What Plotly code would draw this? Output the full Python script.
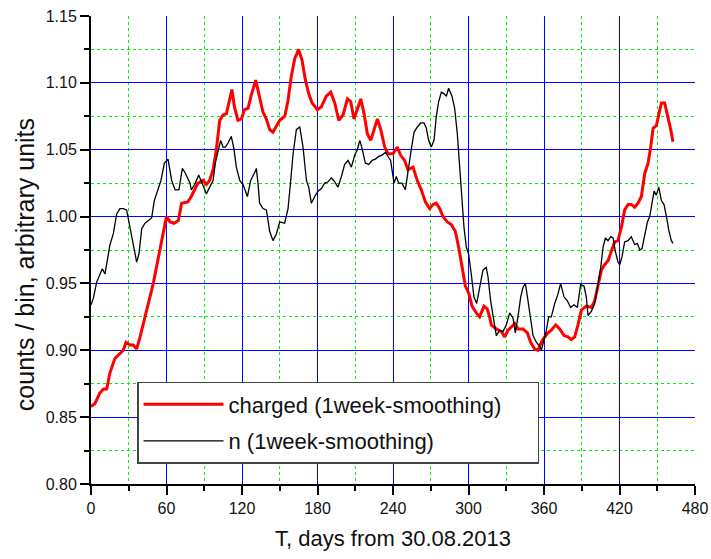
import plotly.graph_objects as go

# ---- data ----
charged_days = [0, 3, 7, 10, 12.5, 15, 19, 23, 25.7, 27.8, 31, 33.6, 36.3, 39, 41.6, 44.2, 47, 49.5, 52, 55,
                57.5, 60, 62.8, 66, 69.4, 72, 77, 79.7, 85, 89, 91.7, 94.3, 97, 99.6, 102.3, 105, 107.6, 110.2,
                112, 114, 116.8, 119.5, 122, 124.8, 127.4, 130.9, 134, 136.7, 139.4, 142, 144.6, 147.3, 150,
                154, 156.6, 159.2, 161.9, 165, 167.7, 170.4, 173, 175.7, 179.9, 183, 187, 190.5, 193.7, 196.9,
                200.3, 203.8, 206.4, 209, 212.2, 214.4, 217, 219.6, 222.3, 225, 227.6, 230.3, 233.4, 236, 240,
                243.4, 246, 249.2, 251.9, 255.9, 259.3, 262.5, 265.7, 269.1, 271.8, 274.4, 277.1, 279.7, 283.2,
                286.3, 289.5, 292.2, 294.8, 297.5, 300.1, 302.8, 306.2, 308.8, 312.3, 314.9, 317, 318.1, 322.1,
                326.1, 328.7, 331.4, 334.6, 336.7, 339.3, 343.3, 346.8, 349.4, 352.6, 355.2, 357.9, 360.5,
                363.2, 365.8, 369.3, 372.5, 375.9, 379.1, 381.7, 384.4, 387, 389.7, 393.6, 397.6, 400.3, 403,
                405.6, 408.2, 410.9, 413.5, 416.2, 418.8, 421.5, 424.1, 426.8, 429.4, 432.1, 434.7, 437.4, 440,
                442.7, 444.8, 446.7, 449.3, 451.2, 453.3, 455.9, 458.6, 460.7, 462.5]
charged_vals = [0.858, 0.860, 0.868, 0.871, 0.871, 0.883, 0.894, 0.898, 0.900, 0.906, 0.904, 0.904, 0.901, 0.910,
                0.920, 0.928, 0.939, 0.950, 0.962, 0.976, 0.990, 1.000, 0.996, 0.995, 0.997, 1.010, 1.011, 1.015,
                1.025, 1.027, 1.024, 1.027, 1.035, 1.050, 1.072, 1.076, 1.077, 1.088, 1.095, 1.082, 1.072, 1.073,
                1.080, 1.081, 1.091, 1.102, 1.088, 1.078, 1.073, 1.065, 1.063, 1.067, 1.072, 1.075, 1.087, 1.105,
                1.118, 1.125, 1.117, 1.102, 1.092, 1.085, 1.080, 1.082, 1.090, 1.093, 1.085, 1.072, 1.076, 1.088,
                1.086, 1.073, 1.081, 1.088, 1.077, 1.062, 1.057, 1.066, 1.073, 1.065, 1.052, 1.047, 1.047, 1.052,
                1.046, 1.042, 1.035, 1.037, 1.027, 1.020, 1.011, 1.006, 1.009, 1.010, 1.006, 1.000, 0.996, 0.994,
                0.989, 0.977, 0.962, 0.948, 0.943, 0.933, 0.928, 0.925, 0.933, 0.931, 0.924, 0.919, 0.916, 0.914,
                0.910, 0.915, 0.918, 0.920, 0.916, 0.916, 0.913, 0.906, 0.901, 0.900, 0.906, 0.910, 0.913, 0.915,
                0.919, 0.916, 0.911, 0.910, 0.908, 0.910, 0.919, 0.930, 0.933, 0.932, 0.937, 0.950, 0.960, 0.964,
                0.967, 0.974, 0.981, 0.982, 0.992, 1.005, 1.009, 1.009, 1.007, 1.010, 1.015, 1.032, 1.040, 1.052,
                1.066, 1.068, 1.077, 1.085, 1.085, 1.075, 1.065, 1.056]

n_days = [0, 1.9, 4.5, 7.2, 9, 11.1, 13.2, 15.1, 17.7, 20.4, 23, 25.7, 28.3, 31, 32.8, 35, 36.3, 38.1, 40.3, 42.9,
          45.6, 48.2, 50.3, 53, 55.6, 58.3, 61.2, 64.1, 66.8, 69.9, 72.6, 74.7, 78.7, 79.7, 82.4, 85.6, 88.2, 91.7,
          94.3, 97, 98.8, 100.9, 103, 104.9, 106.8, 108.9, 111.5, 113.7, 115.5, 118.2, 120.8, 124.3, 126.9, 130.1,
          131.4, 132.7, 134, 136.7, 139.4, 142, 144.6, 147.3, 150, 153.9, 156.6, 158.7, 160.6, 163.2, 165.9,
          168.5, 171.2, 173, 175.1, 177.8, 180.4, 183.1, 185.7, 188.4, 191, 193.7, 196.3, 199, 201.6, 204.3,
          206.9, 209.6, 211.7, 213.6, 215.4, 218, 220.7, 223.4, 226, 228.7, 231.3, 234, 236.1, 238.1, 240.8,
          242.6, 244.5, 247.1, 249.8, 251.9, 254, 256.7, 259.3, 262, 264.6, 266.5, 268.3, 270.4, 272.6, 274.4,
          276.3, 278.4, 280.5, 282.4, 284.2, 286.9, 289, 291.1, 293, 294.8, 296.4, 298.3, 300.1, 302.2, 304.3,
          306.5, 308.8, 311.5, 314.1, 315.5, 317.6, 320.3, 322.1, 324.8, 327.4, 330.1, 332.7, 335.4, 337.2,
          339.3, 341.5, 343.3, 345.2, 347.3, 349.4, 351.3, 353.9, 356.6, 357.9, 360, 361.9, 363.7, 365.8, 368.5,
          371.1, 373.2, 375.9, 378.5, 381.2, 383.8, 386.5, 389.1, 391.8, 393.6, 395, 397.6, 400.3, 403, 405.1,
          406.9, 408.8, 410.9, 413, 414.9, 416.7, 418.8, 420.2, 422, 424.1, 426.8, 429.4, 432.1, 434.2, 436.1,
          437.9, 440, 442.2, 444, 445.9, 447.5, 449.3, 451.2, 453.3, 455.4, 457.3, 459.1, 461.2, 462.5]
n_vals = [0.934, 0.939, 0.951, 0.957, 0.961, 0.957, 0.970, 0.979, 0.987, 1.002, 1.006, 1.006, 1.005, 0.992, 0.985,
          0.972, 0.966, 0.972, 0.991, 0.995, 0.997, 0.999, 1.012, 1.019, 1.027, 1.040, 1.043, 1.027, 1.020, 1.020,
          1.036, 1.033, 1.025, 1.020, 1.024, 1.031, 1.025, 1.017, 1.022, 1.027, 1.040, 1.048, 1.057, 1.052, 1.052,
          1.055, 1.060, 1.050, 1.037, 1.027, 1.024, 1.015, 1.027, 1.033, 1.036, 1.025, 1.010, 1.006, 1.005, 0.989,
          0.982, 0.987, 0.996, 0.995, 1.006, 1.027, 1.047, 1.065, 1.067, 1.052, 1.027, 1.022, 1.010, 1.015, 1.019,
          1.021, 1.025, 1.026, 1.029, 1.026, 1.022, 1.030, 1.039, 1.042, 1.037, 1.046, 1.050, 1.057, 1.051, 1.040,
          1.039, 1.042, 1.043, 1.045, 1.046, 1.048, 1.045, 1.042, 1.025, 1.030, 1.025, 1.025, 1.020, 1.032, 1.047,
          1.063, 1.067, 1.070, 1.070, 1.066, 1.057, 1.052, 1.057, 1.075, 1.086, 1.093, 1.092, 1.090, 1.096, 1.090,
          1.081, 1.062, 1.037, 1.012, 0.992, 0.977, 0.972, 0.957, 0.940, 0.935, 0.947, 0.960, 0.962, 0.955, 0.937,
          0.922, 0.911, 0.915, 0.914, 0.919, 0.928, 0.924, 0.913, 0.925, 0.940, 0.947, 0.950, 0.937, 0.922, 0.911,
          0.906, 0.903, 0.900, 0.908, 0.915, 0.925, 0.925, 0.935, 0.942, 0.950, 0.940, 0.937, 0.932, 0.934, 0.932,
          0.949, 0.948, 0.940, 0.926, 0.929, 0.935, 0.950, 0.962, 0.977, 0.984, 0.982, 0.985, 0.984, 0.974, 0.966,
          0.964, 0.970, 0.981, 0.982, 0.985, 0.979, 0.980, 0.975, 0.976, 0.986, 0.996, 1.000, 1.010, 1.019, 1.016,
          1.022, 1.012, 1.009, 1.000, 0.990, 0.982, 0.980]

x_ticks = [0, 60, 120, 180, 240, 300, 360, 420, 480]
y_ticks = [0.80, 0.85, 0.90, 0.95, 1.00, 1.05, 1.10, 1.15]
y_tick_labels = ["0.80", "0.85", "0.90", "0.95", "1.00", "1.05", "1.10", "1.15"]
series_names = ["charged (1week-smoothing)", "n (1week-smoothing)"]
x_title = "T, days from 30.08.2013"
y_title = "counts / bin, arbitrary units"

FONT = "Liberation Sans, Arial, sans-serif"
PAD = "\u00a0" * 5  # widens the legend box like the reference

fig = go.Figure()
fig.add_trace(go.Scatter(x=charged_days, y=charged_vals, mode="lines",
                         name=series_names[0] + PAD, legendgroup="a",
                         line=dict(color="#ff0000", width=3)))
fig.add_trace(go.Scatter(x=n_days, y=n_vals, mode="lines",
                         name=series_names[1], legendgroup="b",
                         line=dict(color="#000000", width=1.3)))

axis_common = dict(
    showline=True, linecolor="black", linewidth=2,
    ticks="outside", ticklen=9, tickwidth=1.5, tickcolor="black",
    showgrid=True, gridcolor="#0000ff", gridwidth=1,
    zeroline=False, ticklabeloverflow="allow",
    tickfont=dict(family=FONT, size=16, color="#111"),
)

fig.update_xaxes(range=[0, 480], tickvals=x_ticks, **axis_common,
                 minor=dict(dtick=30, tick0=0, ticks="outside", ticklen=5, tickwidth=1.5,
                            tickcolor="black", showgrid=True, gridcolor="#00ee00",
                            griddash="dot", gridwidth=1),
                 title=dict(text=x_title,
                            font=dict(family=FONT, size=22, color="#111"), standoff=14))
fig.update_yaxes(range=[0.80, 1.15], tickvals=y_ticks, ticktext=y_tick_labels, **axis_common,
                 minor=dict(dtick=0.025, tick0=0.8, ticks="outside", ticklen=5, tickwidth=1.5,
                            tickcolor="black", showgrid=True, gridcolor="#00ee00",
                            griddash="dot", gridwidth=1))

# y-axis title placed as in the reference (slightly below the plot centre)
fig.add_annotation(text=y_title, textangle=-90, xref="paper", yref="paper",
                   x=-0.109, y=0.468, xanchor="center", yanchor="middle", showarrow=False,
                   font=dict(family=FONT, size=25, color="#111"))

fig.update_layout(
    width=711, height=559,
    margin=dict(l=91, r=16, t=16, b=75, autoexpand=False),
    paper_bgcolor="white", plot_bgcolor="white",
    font=dict(family=FONT, color="#111"),
    showlegend=True,
    legend=dict(x=0.0762, y=0.218, xanchor="left", yanchor="top",
                bgcolor="white", bordercolor="#444", borderwidth=1.5,
                font=dict(family=FONT, size=22, color="#111"),
                tracegroupgap=5, itemwidth=80),
)

# remove the default page margin so the figure fills the 711x559 window
fig.write_html("out.html",
               config={"displayModeBar": False},
               post_script="document.body.style.margin='0';document.body.style.overflow='hidden';")
